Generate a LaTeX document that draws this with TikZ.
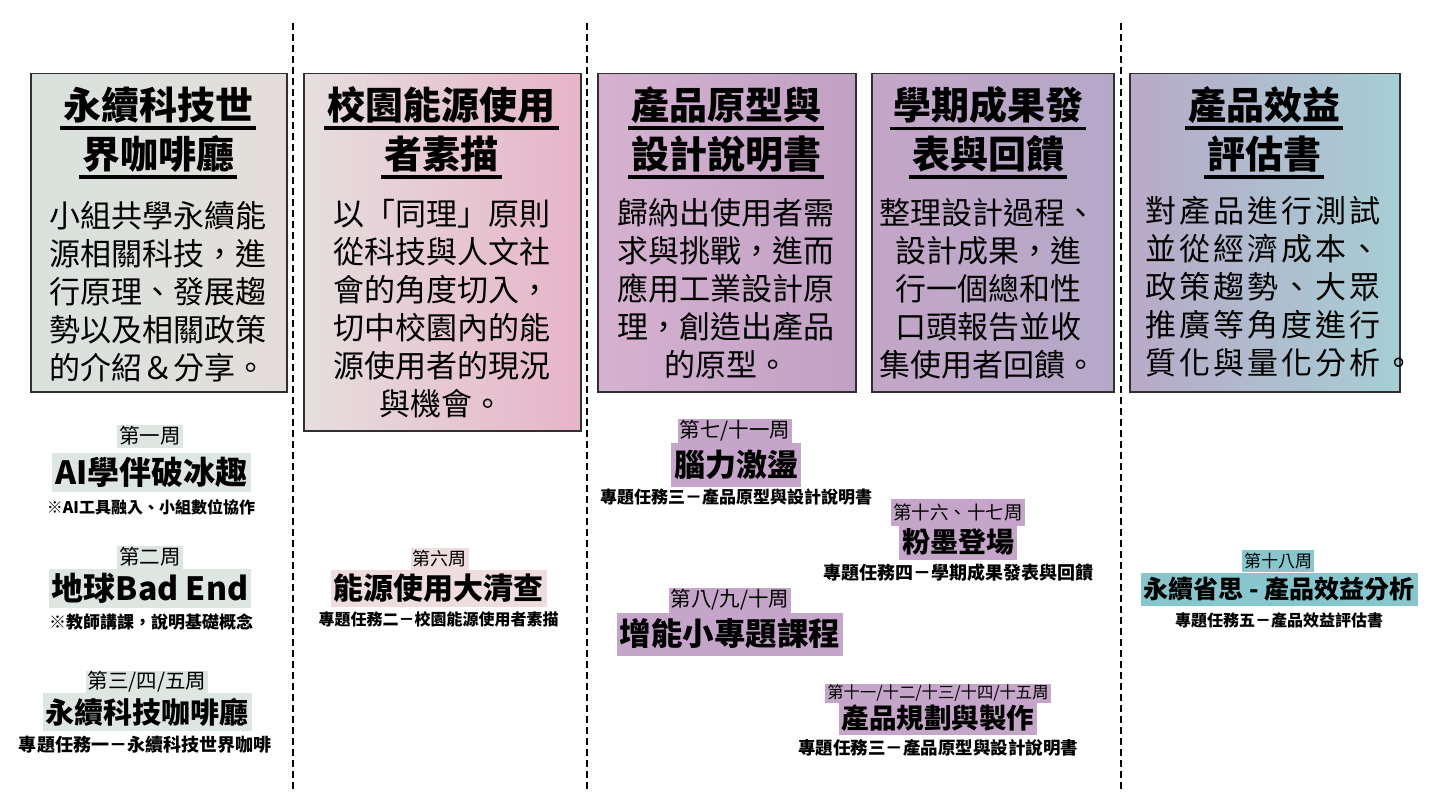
\documentclass[tikz,border=0pt]{standalone}
\usepackage{fontspec}
\setmainfont{Noto Sans CJK TC}[Script=CJK, Language=Chinese Traditional]
\definecolor{bordergray}{HTML}{303030}
\definecolor{hlA}{HTML}{DEE6E1}
\definecolor{hlB}{HTML}{EEDCDE}
\definecolor{hlC}{HTML}{C5A5C9}
\definecolor{hlE}{HTML}{86C6CC}
\definecolor{bxAl}{HTML}{D9E2DD}
\definecolor{bxAr}{HTML}{E3DDDA}
\definecolor{bxBl}{HTML}{E6DEDE}
\definecolor{bxBm}{HTML}{F5C8D4}
\definecolor{bxBr}{HTML}{E6B4C8}
\definecolor{bxCl}{HTML}{D6B2D0}
\definecolor{bxCr}{HTML}{C0A0C4}
\definecolor{bxDl}{HTML}{C4A6C8}
\definecolor{bxDr}{HTML}{B4A8C8}
\definecolor{bxEl}{HTML}{B8AAC8}
\definecolor{bxEr}{HTML}{A6CED4}
\begin{document}
\begin{tikzpicture}[x=1pt,y=-1pt,
  box/.style={draw=bordergray, line width=1.5pt, inner sep=0pt, anchor=north west},
  ttl/.style={font=\bfseries\fontsize{38}{38}\selectfont, inner xsep=3pt, inner ysep=0pt},
  ul/.style={line width=3.5pt},
  body/.style={font=\fontsize{31}{38}\selectfont, align=center, inner sep=0pt},
  sepline/.style={dash pattern=on 7pt off 4pt, line width=2.2pt},
  wk/.style={fill=#1, font=\fontsize{20.5}{20.5}\selectfont, inner xsep=2pt, inner ysep=0pt, minimum height=23pt},
  mn/.style={fill=#1, font=\bfseries\fontsize{32}{32}\selectfont, inner xsep=3pt, inner ysep=0pt, minimum height=39pt},
  sb/.style={font=\bfseries\fontsize{17}{17}\selectfont, inner sep=0pt},
]
\path[use as bounding box] (0,0) rectangle (1440,810);

% separators
\coordinate (d1a) at (293,23); \coordinate (d1b) at (293,790);
\coordinate (d2a) at (587,23); \coordinate (d2b) at (587,790);
\coordinate (d3a) at (1121,23); \coordinate (d3b) at (1121,790);
\draw[sepline] (d1a) -- (d1b);
\draw[sepline] (d2a) -- (d2b);
\draw[sepline] (d3a) -- (d3b);

% boxes
\node[box, minimum width=256pt, minimum height=318pt, left color=bxAl, right color=bxAr] (b1) at (30,73) {};
\node[box, minimum width=277pt, minimum height=357pt, left color=bxBl, middle color=bxBm, right color=bxBr] (b2) at (303,73) {};
\node[box, minimum width=258pt, minimum height=318pt, left color=bxCl, right color=bxCr] (b3) at (597,73) {};
\node[box, minimum width=242pt, minimum height=318pt, left color=bxDl, right color=bxDr] (b4) at (871,73) {};
\node[box, minimum width=270pt, minimum height=318pt, left color=bxEl, right color=bxEr] (b5) at (1129,73) {};

% titles
\node[ttl] (b1ta) at (158,105) {永續科技世};
\node[ttl] (b1tb) at (158,154) {界咖啡廳};
\node[ttl] (b2ta) at (441.5,105) {校園能源使用};
\node[ttl] (b2tb) at (441.5,154) {者素描};
\node[ttl] (b3ta) at (726,105) {產品原型與};
\node[ttl] (b3tb) at (726,154) {設計說明書};
\node[ttl] (b4ta) at (988,105) {學期成果發};
\node[ttl] (b4tb) at (988,154) {表與回饋};
\node[ttl] (b5ta) at (1264,105) {產品效益};
\node[ttl] (b5tb) at (1264,154) {評估書};
\foreach \t in {b1ta,b1tb,b2ta,b2tb,b3ta,b3tb,b4ta,b4tb,b5ta,b5tb}{
  \draw[ul] ([yshift=-4.5pt]\t.south west) -- ([yshift=-4.5pt]\t.south east);
}

% body texts
\node[body] (b1x) at (158,292) {小組共學永續能\\源相關科技，進\\行原理、發展趨\\勢以及相關政策\\的介紹＆分享。};
\node[body] (b2x) at (441.5,309) {以「同理」原則\\從科技與人文社\\會的角度切入，\\切中校園內的能\\源使用者的現況\\與機會。};
\node[body] (b3x) at (726,289) {歸納出使用者需\\求與挑戰，進而\\應用工業設計原\\理，創造出產品\\的原型。};
\node[body] (b4x) at (988,289) {整理設計過程、\\設計成果，進\\行一個總和性\\口頭報告並收\\集使用者回饋。};
\node[body, align=left, anchor=west, font=\fontsize{31}{38}\selectfont\addfontfeatures{LetterSpace=10}] (b5x) at (1145,287) {對產品進行測試\\並從經濟成本、\\政策趨勢、大眾\\推廣等角度進行\\質化與量化分析。};

% column 1
\node[wk=hlA] (w1) at (150,436) {第一周};
\node[mn=hlA] (m1) at (151.5,472) {AI學伴破冰趣};
\node[sb, font=\bfseries\fontsize{16}{16}\selectfont] (s1) at (151,507) {※AI工具融入、小組數位協作};
\node[wk=hlA] (w2) at (150,557) {第二周};
\node[mn=hlA] (m2) at (150,588) {地球Bad End};
\node[sb] (s2) at (151,622) {※教師講課，說明基礎概念};
\node[wk=hlA] (w3) at (147,682) {第三/四/五周};
\node[mn=hlA, font=\bfseries\fontsize{29}{29}\selectfont, minimum height=38pt] (m3) at (147,712) {永續科技咖啡廳};
\node[sb, font=\bfseries\fontsize{18}{18}\selectfont] (s3) at (145,745) {專題任務一－永續科技世界咖啡};

% column 2
\node[wk=hlB, font=\fontsize{18}{18}\selectfont, minimum height=22pt] (w6) at (439.5,559) {第六周};
\node[mn=hlB, font=\bfseries\fontsize{30}{30}\selectfont, minimum height=37pt] (m6) at (438.5,588) {能源使用大清查};
\node[sb, font=\bfseries\fontsize{16}{16}\selectfont] (s6) at (438.5,619) {專題任務二－校園能源使用者素描};

% column 3
\node[wk=hlC, minimum height=25pt] (w7) at (735,431) {第七/十一周};
\node[mn=hlC, font=\bfseries\fontsize{31}{31}\selectfont, minimum height=44pt] (m7) at (736,465) {腦力激盪};
\node[sb] (s7) at (736,497) {專題任務三－產品原型與設計說明書};
\node[wk=hlC, font=\fontsize{18.5}{18.5}\selectfont, minimum height=27pt] (w16) at (958,512) {第十六、十七周};
\node[mn=hlC, font=\bfseries\fontsize{28}{28}\selectfont, minimum height=35pt] (m16) at (958,542) {粉墨登場};
\node[sb, font=\bfseries\fontsize{18}{18}\selectfont] (s16) at (958,573) {專題任務四－學期成果發表與回饋};
\node[wk=hlC, minimum height=25pt] (w8) at (730,600) {第八/九/十周};
\node[mn=hlC, font=\bfseries\fontsize{31.5}{31.5}\selectfont, minimum height=43pt] (m8) at (730,634) {增能小專題課程};
\node[wk=hlC, font=\fontsize{16.3}{16.3}\selectfont, minimum height=19pt] (w11) at (938,693) {第十一/十二/十三/十四/十五周};
\node[mn=hlC, font=\bfseries\fontsize{27.5}{27.5}\selectfont, minimum height=34pt] (m11) at (938,718) {產品規劃與製作};
\node[sb, font=\bfseries\fontsize{17.5}{17.5}\selectfont] (s11) at (938,748) {專題任務三－產品原型與設計說明書};

% column 5
\node[wk=hlE, font=\fontsize{17}{17}\selectfont, minimum height=22pt] (w18) at (1278,561) {第十八周};
\node[mn=hlE, font=\bfseries\fontsize{25}{25}\selectfont, minimum height=33pt] (m18) at (1279,589) {永續省思 - 產品效益分析};
\node[sb, font=\bfseries\fontsize{16}{16}\selectfont] (s18) at (1279,620) {專題任務五－產品效益評估書};
\end{tikzpicture}
\end{document}
